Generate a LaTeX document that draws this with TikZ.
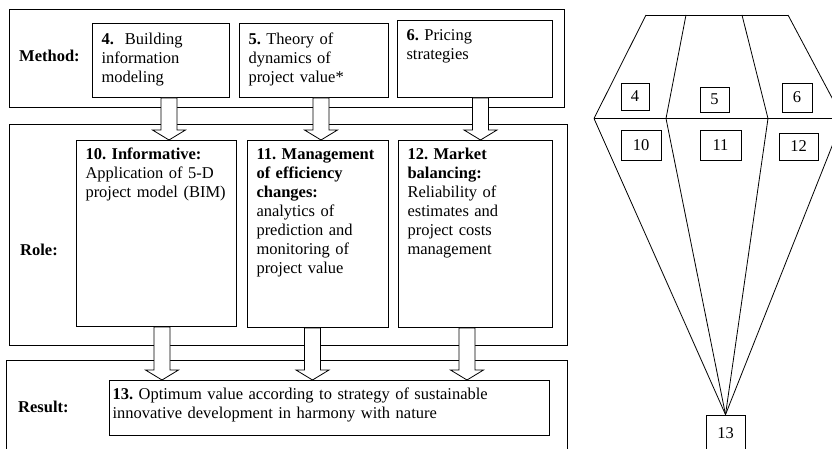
\documentclass[tikz,border=0pt]{standalone}
\usepackage{fontspec}
\setmainfont{Liberation Serif}
\usetikzlibrary{calc}
\frenchspacing

\tikzstyle{panel} = [rectangle, draw=black, line width=1pt, anchor=north west, inner sep=0pt]
\tikzstyle{process} = [rectangle, draw=black, line width=1pt, anchor=north west, align=left, inner xsep=9pt, inner ysep=4pt, text height=15pt]
\tikzstyle{tag} = [anchor=base west, inner sep=0pt]
\tikzstyle{cell} = [rectangle, draw=black, line width=0.8pt, inner sep=0pt]
\tikzstyle{edge} = [line width=0.8pt]
\tikzstyle{arrow} = [draw=black, fill=white, line width=0.8pt]

% hollow block arrow: source, target, x position
\newcommand{\flowarrow}[3]{%
  \draw [arrow] let \p1 = (#1.south), \p2 = (#2.north) in
    (#3-8,\y1) -- (#3+8,\y1) -- (#3+8,\y2+10pt) -- (#3+16.5,\y2+10pt)
    -- (#3,\y2) -- (#3-16.5,\y2+10pt) -- (#3-8,\y2+10pt) -- cycle;}

\begin{document}
\begin{tikzpicture}[x=1pt, y=-1pt, font=\fontsize{16.5pt}{19pt}\selectfont]
        \useasboundingbox (0,0) rectangle (832,449);

        % Panels
        \node (method) [panel, minimum width=555, minimum height=98] at (9,9) {};
        \node (role) [panel, minimum width=558, minimum height=221] at (9,124) {};
        \node (result) [panel, minimum width=561, minimum height=110] at (6,360) {};
        \node (methodTag) [tag] at (19,62) {\textbf{Method:}};
        \node (roleTag) [tag] at (20,255) {\textbf{Role:}};
        \node (resultTag) [tag] at (18,412) {\textbf{Result:}};

        % Nodes
        \node (n4) [process, text height=17pt, text width=119pt, text depth=49pt] at (92,23) {\textbf{4.}\ \ Building\\information\\modeling};
        \node (n5) [process, text height=17pt, text width=131pt, text depth=49pt] at (239,23) {\textbf{5.} Theory of\\dynamics of\\project value*};
        \node (n6) [process, text height=16pt, text width=137pt, text depth=53pt] at (397,20) {\textbf{6.} Pricing\\strategies};
        \node (n10) [process, text width=142pt, text depth=163pt] at (76,140) {\textbf{10. Informative:}\\Application of 5-D\\project model (BIM)};
        \node (n11) [process, text width=123pt, text depth=164pt] at (247,140) {\textbf{11. Management}\\\textbf{of efficiency}\\\textbf{changes:}\\analytics of\\prediction and\\monitoring of\\project value};
        \node (n12) [process, text width=136pt, text depth=164pt] at (398,140) {\textbf{12. Market}\\\textbf{balancing:}\\Reliability of\\estimates and\\project costs\\management};
        \node (n13) [process, inner xsep=3pt, text width=434pt, text depth=32pt] at (109,380) {\textbf{13.} Optimum value according to strategy of sustainable\\innovative development in harmony with nature};

        % Arrows
        \flowarrow{n4}{n10}{169}
        \flowarrow{n5}{n11}{321}
        \flowarrow{n6}{n12}{480.5}
        \flowarrow{n10}{n13}{162}
        \flowarrow{n11}{n13}{312.5}
        \flowarrow{n12}{n13}{467}

        % Scheme on the right
        \coordinate (top1) at (646,15);
        \coordinate (top2) at (686,15);
        \coordinate (top3) at (742,15);
        \coordinate (top4) at (788,15);
        \coordinate (mid1) at (594,118.5);
        \coordinate (mid2) at (666,118.5);
        \coordinate (mid3) at (768,118.5);
        \coordinate (mid4) at (843,118.5);

        \node (c4) [cell, minimum width=28, minimum height=27] at (635,96.5) {4};
        \node (c5) [cell, minimum width=29, minimum height=25] at (714.5,99.5) {5};
        \node (c6) [cell, minimum width=30, minimum height=29] at (797,97.5) {6};
        \node (c10) [cell, minimum width=40, minimum height=30] at (641,145) {10};
        \node (c11) [cell, minimum width=41, minimum height=30] at (720.5,145) {11};
        \node (c12) [cell, minimum width=39, minimum height=27] at (798.5,146.5) {12};
        \node (c13) [cell, minimum width=39, minimum height=36] at (725.5,433) {13};

        \draw [edge] (top1) -- (top4);
        \draw [edge] (mid1) -- (mid4);
        \foreach \i in {1,...,4}
            \draw [edge] (top\i) -- (mid\i);
        \foreach \i in {1,...,4}
            \draw [edge] (mid\i) -- (c13.north);
    \end{tikzpicture}
\end{document}
